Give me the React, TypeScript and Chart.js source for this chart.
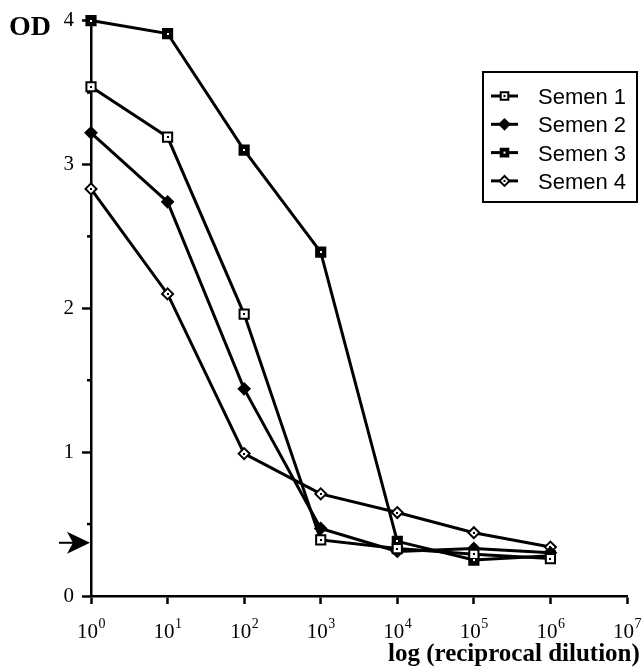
import React, { useEffect, useRef } from 'react';
import { Chart, registerables } from 'chart.js';

Chart.register(...registerables);

// ---- data ----
const DILUTIONS = [1, 10, 100, 1000, 10000, 100000, 1000000];
const X_TICKS = [1, 10, 100, 1000, 10000, 100000, 1000000, 10000000];
const Y_MINOR_TICKS = [0.5, 1.5, 2.5, 3.5];
const SERIES_NAMES = ['Semen 1', 'Semen 2', 'Semen 3', 'Semen 4'];
const SEMEN_1 = [3.54, 3.19, 1.96, 0.39, 0.33, 0.29, 0.26];
const SEMEN_2 = [3.22, 2.74, 1.44, 0.47, 0.31, 0.33, 0.3];
const SEMEN_3 = [4.0, 3.91, 3.1, 2.39, 0.38, 0.25, 0.28];
const SEMEN_4 = [2.83, 2.1, 0.99, 0.71, 0.58, 0.44, 0.34];
const CUTOFF_OD = 0.37;
const Y_TITLE = 'OD';
const X_TITLE = 'log (reciprocal dilution)';

// marker styles: shape, fill, centre dot colour
const MARKERS = [
  { shape: 'rect', fill: '#ffffff', dot: '#000000' },
  { shape: 'rectRot', fill: '#000000', dot: null },
  { shape: 'rect', fill: '#000000', dot: '#ffffff' },
  { shape: 'rectRot', fill: '#ffffff', dot: '#000000' },
];

const SERIF = '"Liberation Serif", "Times New Roman", serif';
const SANS = '"Liberation Sans", Arial, sans-serif';

function drawMarker(ctx: CanvasRenderingContext2D, x: number, y: number, shape: string, fill: string, dot: string | null, size: number) {
  ctx.save();
  ctx.beginPath();
  if (shape === 'rect') {
    ctx.rect(x - size, y - size, size * 2, size * 2);
  } else {
    const r = size * 1.3;
    ctx.moveTo(x - r, y);
    ctx.lineTo(x, y - r);
    ctx.lineTo(x + r, y);
    ctx.lineTo(x, y + r);
    ctx.closePath();
  }
  ctx.fillStyle = fill;
  ctx.fill();
  ctx.lineWidth = 2;
  ctx.strokeStyle = '#000';
  ctx.stroke();
  if (dot) {
    ctx.fillStyle = dot;
    ctx.fillRect(x - 1, y - 1, 2, 2);
  }
  ctx.restore();
}

const decorPlugin = {
  id: 'decor',
  afterDatasetsDraw(chart: any) {
    const ctx = chart.ctx as CanvasRenderingContext2D;
    chart.data.datasets.forEach((ds: any, i: number) => {
      const m = MARKERS[i];
      if (!m.dot) return;
      const meta = chart.getDatasetMeta(i);
      ctx.save();
      ctx.fillStyle = m.dot;
      meta.data.forEach((pt: any) => {
        ctx.fillRect(Math.round(pt.x) - 1, Math.round(pt.y) - 1, 2, 2);
      });
      ctx.restore();
    });
  },
  afterDraw(chart: any) {
    const ctx = chart.ctx as CanvasRenderingContext2D;
    const xs = chart.scales.x;
    const ys = chart.scales.y;
    const area = chart.chartArea;

    // minor y ticks
    ctx.save();
    ctx.strokeStyle = '#000';
    ctx.lineWidth = 2.5;
    Y_MINOR_TICKS.forEach((v) => {
      const py = ys.getPixelForValue(v);
      ctx.beginPath();
      ctx.moveTo(area.left - 4, py);
      ctx.lineTo(area.left, py);
      ctx.stroke();
    });
    ctx.restore();

    // x tick labels 10^n
    ctx.save();
    ctx.fillStyle = '#000';
    ctx.textBaseline = 'alphabetic';
    ctx.textAlign = 'left';
    xs.ticks.forEach((t: any) => {
      const px = xs.getPixelForValue(t.value);
      const exp = String(Math.round(Math.log10(t.value)));
      ctx.font = `21px ${SERIF}`;
      const wb = ctx.measureText('10').width;
      ctx.font = `14px ${SERIF}`;
      const we = ctx.measureText(exp).width;
      const left = px - (wb + we) / 2;
      const base = area.bottom + 42;
      ctx.font = `21px ${SERIF}`;
      ctx.fillText('10', left, base);
      ctx.font = `14px ${SERIF}`;
      ctx.fillText(exp, left + wb + 0.5, base - 10);
    });
    ctx.restore();

    // titles
    ctx.save();
    ctx.fillStyle = '#000';
    ctx.font = `bold 28px ${SERIF}`;
    ctx.textAlign = 'left';
    ctx.textBaseline = 'alphabetic';
    ctx.fillText(Y_TITLE, 9, 35);
    ctx.font = `bold 25px ${SERIF}`;
    ctx.fillText(X_TITLE, 388, 661);
    ctx.restore();

    // cutoff arrow
    const ay = ys.getPixelForValue(CUTOFF_OD);
    const tip = area.left - 1;
    ctx.save();
    ctx.strokeStyle = '#000';
    ctx.fillStyle = '#000';
    ctx.lineWidth = 2;
    ctx.beginPath();
    ctx.moveTo(tip - 31, ay);
    ctx.lineTo(tip - 15, ay);
    ctx.stroke();
    ctx.beginPath();
    ctx.moveTo(tip, ay);
    ctx.lineTo(tip - 23, ay - 11);
    ctx.lineTo(tip - 17, ay);
    ctx.lineTo(tip - 23, ay + 11);
    ctx.closePath();
    ctx.fill();
    ctx.restore();

    // legend
    const bx = 483, by = 72, bw = 154, bh = 130;
    ctx.save();
    ctx.strokeStyle = '#000';
    ctx.lineWidth = 2;
    ctx.strokeRect(bx, by, bw, bh);
    chart.data.datasets.forEach((ds: any, i: number) => {
      const cy = by + 24 + i * 28.3;
      ctx.lineWidth = 3;
      ctx.beginPath();
      ctx.moveTo(491, cy);
      ctx.lineTo(518, cy);
      ctx.stroke();
      const m = MARKERS[i];
      drawMarker(ctx, 504.5, cy, m.shape, m.fill, m.dot, 3.8);
      ctx.fillStyle = '#000';
      ctx.font = `22px ${SANS}`;
      ctx.textAlign = 'left';
      ctx.textBaseline = 'middle';
      ctx.fillText(ds.label, 538, cy + 2);
    });
    ctx.restore();
  },
};

export default function App() {
  const ref = useRef<HTMLCanvasElement | null>(null);
  useEffect(() => {
    if (!ref.current) return;
    const series = [SEMEN_1, SEMEN_2, SEMEN_3, SEMEN_4];
    const datasets = series.map((vals, i) => {
      const m = MARKERS[i];
      return {
        label: SERIES_NAMES[i],
        data: DILUTIONS.map((d, j) => ({ x: d, y: vals[j] })),
        borderColor: '#000',
        borderWidth: 3,
        backgroundColor: m.fill,
        pointBackgroundColor: m.fill,
        pointBorderColor: '#000',
        pointBorderWidth: 2,
        pointStyle: m.shape,
        pointRadius: m.shape === 'rect' ? 6.5 : 5.5,
        pointHoverRadius: m.shape === 'rect' ? 6.5 : 5.5,
        tension: 0,
        fill: false,
        clip: false,
      };
    });
    const chart = new Chart(ref.current, {
      type: 'line',
      data: { datasets },
      options: {
        animation: false,
        responsive: false,
        events: [],
        layout: { padding: { left: 64, right: 14, top: 16, bottom: 64 } },
        plugins: { legend: { display: false }, tooltip: { enabled: false } },
        scales: {
          x: {
            type: 'logarithmic',
            min: 1,
            max: 10000000,
            afterBuildTicks: (scale: any) => {
              scale.ticks = X_TICKS.map((v) => ({ value: v, major: true }));
            },
            afterFit: (scale: any) => {
              scale.height = 8;
            },
            ticks: { display: false },
            grid: {
              drawOnChartArea: false,
              drawTicks: true,
              tickLength: 8,
              tickWidth: 2.5,
              tickColor: '#000',
              color: '#000',
            },
            border: { display: true, color: '#000', width: 2.5 },
          },
          y: {
            type: 'linear',
            min: 0,
            max: 4,
            ticks: {
              stepSize: 1,
              color: '#000',
              padding: 8,
              font: { family: SERIF, size: 21 },
            },
            afterFit: (scale: any) => {
              scale.width = 27;
            },
            grid: {
              drawOnChartArea: false,
              drawTicks: true,
              tickLength: 9,
              tickWidth: 2.5,
              tickColor: '#000',
              color: '#000',
            },
            border: { display: true, color: '#000', width: 2.5 },
          },
        },
      },
      plugins: [decorPlugin],
    } as any);
    return () => chart.destroy();
  }, []);
  return (
    <div style={{ position: 'absolute', left: 0, top: 0, width: 641, height: 668, background: '#fff' }}>
      <canvas ref={ref} width={641} height={668} style={{ display: 'block' }} />
    </div>
  );
}
